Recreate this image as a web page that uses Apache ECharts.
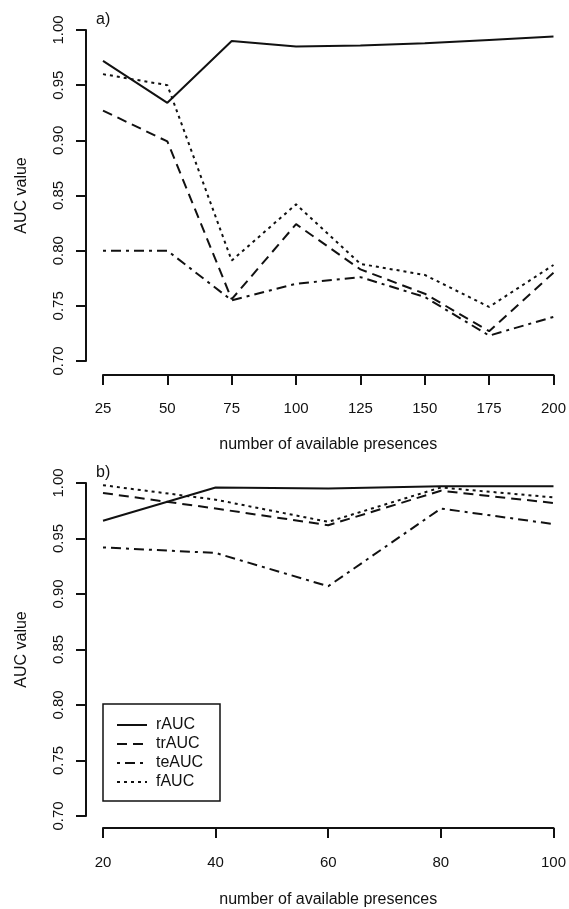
<!DOCTYPE html>
<html>
<head>
<meta charset="utf-8">
<title>AUC value vs number of available presences</title>
<script src="https://cdn.jsdelivr.net/npm/echarts@6/dist/echarts.min.js"></script>
<style>
  html, body { margin: 0; padding: 0; background: #fff; }
  #chart { width: 569px; height: 909px; }
</style>
</head>
<body>
<div id="chart"></div>
<script>
// Panel a: 25..200 available presences
const presencesA = [25, 50, 75, 100, 125, 150, 175, 200];
const rAUC_A  = [0.972, 0.934, 0.990, 0.985, 0.986, 0.988, 0.991, 0.994];
const trAUC_A = [0.927, 0.899, 0.756, 0.824, 0.783, 0.761, 0.727, 0.780];
const teAUC_A = [0.800, 0.800, 0.755, 0.770, 0.776, 0.758, 0.723, 0.740];
const fAUC_A  = [0.960, 0.950, 0.791, 0.842, 0.788, 0.778, 0.749, 0.787];

// Panel b: 20..100 available presences
const presencesB = [20, 40, 60, 80, 100];
const rAUC_B  = [0.966, 0.996, 0.995, 0.997, 0.997];
const trAUC_B = [0.991, 0.977, 0.962, 0.993, 0.982];
const teAUC_B = [0.942, 0.937, 0.907, 0.977, 0.963];
const fAUC_B  = [0.998, 0.985, 0.965, 0.996, 0.987];

const seriesNames = ['rAUC', 'trAUC', 'teAUC', 'fAUC'];
const yTicks = { min: 0.70, max: 1.00, step: 0.05 };
const xTicksA = { min: 25, max: 200, step: 25 };
const xTicksB = { min: 20, max: 100, step: 20 };

const FONT = '"Liberation Sans", Arial, Helvetica, sans-serif';
const INK = '#111';

// line type per series (solid, dashed, dot-dash, dotted)
const dashes = {
  rAUC: null,
  trAUC: [10, 6],
  teAUC: [3, 5, 10, 5],
  fAUC: [3, 4]
};

function pairs(xs, ys) {
  return xs.map((x, i) => [x, ys[i]]);
}

function yAxis(gridIndex) {
  return {
    type: 'value',
    gridIndex,
    min: yTicks.min,
    max: yTicks.max,
    interval: yTicks.step,
    offset: 17,
    name: 'AUC value',
    nameLocation: 'middle',
    nameGap: 56,
    nameTextStyle: { fontFamily: FONT, fontSize: 16, color: INK },
    axisLine: { show: true, lineStyle: { color: INK, width: 2 } },
    axisTick: { show: true, length: 10, lineStyle: { color: INK, width: 2 } },
    axisLabel: {
      rotate: 90,
      margin: 20,
      fontFamily: FONT,
      fontSize: 15,
      color: INK,
      formatter: v => v.toFixed(2)
    },
    splitLine: { show: false }
  };
}

function xAxis(gridIndex, ticks, offset, labelMargin, nameGap) {
  return {
    type: 'value',
    gridIndex,
    min: ticks.min,
    max: ticks.max,
    interval: ticks.step,
    offset,
    name: 'number of available presences',
    nameLocation: 'middle',
    nameGap,
    nameTextStyle: { fontFamily: FONT, fontSize: 16, color: INK },
    axisLine: { show: true, onZero: false, lineStyle: { color: INK, width: 2 } },
    axisTick: { show: true, length: 10, lineStyle: { color: INK, width: 2 } },
    axisLabel: {
      margin: labelMargin,
      fontFamily: FONT,
      fontSize: 15,
      color: INK,
      showMinLabel: true,
      showMaxLabel: true,
      hideOverlap: false
    },
    splitLine: { show: false }
  };
}

function lineSeries(name, xIndex, data) {
  return {
    name,
    type: 'line',
    xAxisIndex: xIndex,
    yAxisIndex: xIndex,
    data,
    symbol: 'none',
    clip: false,
    silent: true,
    animation: false,
    lineStyle: { color: INK, width: 2, type: dashes[name] || 'solid', cap: 'butt' },
    itemStyle: { color: INK }
  };
}

const panelA = [rAUC_A, trAUC_A, teAUC_A, fAUC_A];
const panelB = [rAUC_B, trAUC_B, teAUC_B, fAUC_B];

const series = [];
seriesNames.forEach((n, i) => series.push(lineSeries(n, 0, pairs(presencesA, panelA[i]))));
seriesNames.forEach((n, i) => series.push(lineSeries(n, 1, pairs(presencesB, panelB[i]))));

// Boxed key in the lower-left corner of panel b
const key = { x: 103, y: 704, w: 117, h: 97, row0: 21, rowStep: 19, lineX0: 117, lineX1: 147, textX: 156 };
const keyElements = [
  {
    type: 'rect',
    shape: { x: key.x, y: key.y, width: key.w, height: key.h },
    style: { fill: '#fff', stroke: INK, lineWidth: 1.5 },
    z: 10
  }
];
seriesNames.forEach((n, i) => {
  const yy = key.y + key.row0 + i * key.rowStep;
  keyElements.push({
    type: 'line',
    shape: { x1: key.lineX0, y1: yy, x2: key.lineX1, y2: yy },
    style: { stroke: INK, lineWidth: 2, lineDash: dashes[n], lineCap: 'butt' },
    z: 11
  });
  keyElements.push({
    type: 'text',
    x: key.textX,
    y: yy,
    style: { text: n, font: '16px ' + FONT, fill: INK, verticalAlign: 'middle', align: 'left' },
    z: 11
  });
});

const chart = echarts.init(document.getElementById('chart'), null, { renderer: 'canvas' });

chart.setOption({
  animation: false,
  backgroundColor: '#fff',
  grid: [
    { left: 103, right: 12, top: 30, height: 331 },
    { left: 103, right: 12, top: 483, height: 333 }
  ],
  xAxis: [
    xAxis(0, xTicksA, 14, 26, 62),
    xAxis(1, xTicksB, 12, 27, 64)
  ],
  yAxis: [yAxis(0), yAxis(1)],
  graphic: [
    { type: 'text', left: 96, top: 12, style: { text: 'a)', font: '16px ' + FONT, fill: INK } },
    { type: 'text', left: 96, top: 465, style: { text: 'b)', font: '16px ' + FONT, fill: INK } }
  ].concat(keyElements),
  series
});
</script>
</body>
</html>
